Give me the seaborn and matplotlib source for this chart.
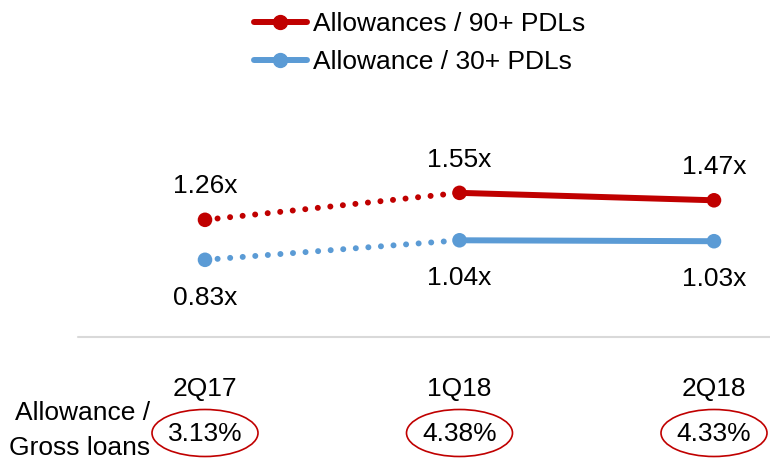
import matplotlib
matplotlib.use("Agg")
import matplotlib.pyplot as plt
from matplotlib.lines import Line2D
from matplotlib.patches import Ellipse
import seaborn as sns
import pandas as pd

categories = ["2Q17", "1Q18", "2Q18"]
allow_90 = [1.26, 1.55, 1.47]
allow_30 = [0.83, 1.04, 1.03]
gross_loans_pct = ["3.13%", "4.38%", "4.33%"]
series_names = ["Allowances / 90+ PDLs", "Allowance / 30+ PDLs"]

RED = "#C00000"
BLUE = "#5B9BD5"

sns.set_theme(style="white")
plt.rcParams["font.family"] = ["Liberation Sans", "DejaVu Sans"]
plt.rcParams["text.color"] = "black"
plt.rcParams["xtick.color"] = "black"

fig = plt.figure(figsize=(7.7, 4.62), dpi=100)
ax = fig.add_axes([0, 1 - 337 / 462, 1, 337 / 462])

xpos = list(range(len(categories)))
df = pd.DataFrame({
    "x": xpos * 2,
    "value": allow_90 + allow_30,
    "series": [series_names[0]] * 3 + [series_names[1]] * 3,
})
palette = {series_names[0]: RED, series_names[1]: BLUE}

lw = 4.3
dotted = (0, (0.01, 2.1))
for name in series_names:
    sub = df[df["series"] == name]
    # dotted part (first two points)
    sns.lineplot(data=sub.iloc[0:2], x="x", y="value", color=palette[name],
                 lw=lw, linestyle=dotted, dash_capstyle="round", ax=ax,
                 legend=False, estimator=None)
    # solid part (last two points)
    sns.lineplot(data=sub.iloc[1:3], x="x", y="value", color=palette[name],
                 lw=lw, ax=ax, legend=False, estimator=None,
                 solid_capstyle="butt")
    sns.scatterplot(data=sub, x="x", y="value", color=palette[name], s=110,
                    edgecolor="none", ax=ax, legend=False, zorder=5)

fs = 19
for i, v in enumerate(allow_90):
    ax.annotate(f"{v:.2f}x", (i, v), xytext=(0, 24), textcoords="offset points",
                ha="center", va="center", fontsize=fs, color="black")
for i, v in enumerate(allow_30):
    ax.annotate(f"{v:.2f}x", (i, v), xytext=(0, -27.5), textcoords="offset points",
                ha="center", va="center", fontsize=fs, color="black")

# scales: 0 -> 205px, 2 -> 714px
ppu = (714 - 205) / 2
ax.set_xlim(-205 / ppu, 2 + (770 - 714) / ppu)
ax.set_ylim(0, 337 / 93)
for s in ax.spines.values():
    s.set_visible(False)
ax.axhline(0, xmin=78 / 770, xmax=1, color="#d9d9d9", lw=1.5, clip_on=False)

ax.set_xticks(xpos)
ax.set_xticklabels(categories, fontsize=fs, color="black")
ax.tick_params(axis="x", length=0, pad=29, labelcolor="black")
ax.set_yticks([])
ax.set_xlabel("")
ax.set_ylabel("")

# Allowance / Gross loans row
yrow = (337 - 434) / 93
for i, t in enumerate(gross_loans_pct):
    ax.text(i, yrow, t, ha="center", va="center", fontsize=fs, clip_on=False,
            color="black")
    e = Ellipse((i, (337 - 433) / 93), width=106 / ppu, height=47 / 93,
                fill=False, edgecolor=RED, lw=1.2, clip_on=False)
    ax.add_patch(e)
fig.text(150 / 770, 1 - 413 / 462, "Allowance /", ha="right", va="center",
         fontsize=fs, color="black")
fig.text(150 / 770, 1 - 448 / 462, "Gross loans", ha="right", va="center",
         fontsize=fs, color="black")

handles = [Line2D([0], [0], color=RED, lw=lw, marker="o", markersize=10),
           Line2D([0], [0], color=BLUE, lw=lw, marker="o", markersize=10)]
leg = fig.legend(handles, series_names, loc="upper left",
                 bbox_to_anchor=(230 / 770, 1 + 12 / 462), frameon=False,
                 fontsize=fs, handlelength=2.0, handletextpad=0.25,
                 labelspacing=0.55)
for t in leg.get_texts():
    t.set_color("black")

fig.savefig("out.png", dpi=100)
